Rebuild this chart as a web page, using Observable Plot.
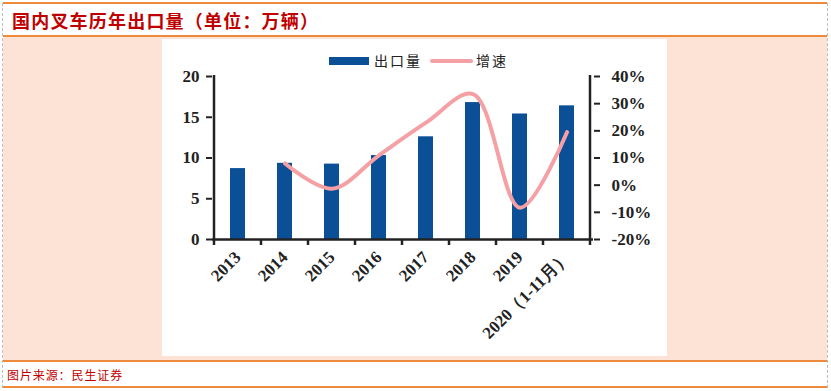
<!DOCTYPE html>
<html>
<head>
<meta charset="utf-8">
<script src="https://cdn.jsdelivr.net/npm/d3@7"></script>
<script src="https://cdn.jsdelivr.net/npm/@observablehq/plot@0.6"></script>
<style>
  html, body { margin: 0; padding: 0; background: #fff; }
  #frame { position: relative; width: 831px; height: 391px; overflow: hidden; background: #fff; }
  .hline { position: absolute; left: 3px; right: 4px; height: 2px; background: #EE8A3C; }
  .vdash { position: absolute; top: 3px; bottom: 3px; width: 0; border-left: 1px dashed #bbb; }
  #peach { position: absolute; left: 3px; right: 4px; top: 37px; height: 323px; background: #FCE3D6; }
  #panel { position: absolute; left: 162px; top: 39px; width: 505px; height: 317px; background: #fff; }
  #title { position: absolute; left: 12px; top: 7px; font: bold 18px "Noto Sans CJK SC", sans-serif; color: #C00000; letter-spacing: 1.2px; }
  #caption { position: absolute; left: 7px; top: 366px; font: 12px "Noto Sans CJK SC", sans-serif; color: #C00000; letter-spacing: 0.9px; }
  #legend { position: absolute; left: 167px; top: 52px; width: 500px; height: 20px; font: 14px "Noto Sans CJK SC", sans-serif; color: #222; }
  .sw { position: absolute; }
</style>
</head>
<body>
<div id="frame">
  <div class="hline" style="top:2px"></div>
  <div class="hline" style="top:35px"></div>
  <div id="peach"></div>
  <div class="hline" style="top:360px"></div>
  <div class="hline" style="top:386px"></div>
  <div class="vdash" style="left:2px"></div>
  <div class="vdash" style="left:827px"></div>
  <div id="title">国内叉车历年出口量（单位：万辆）</div>
  <div id="panel"></div>
  <div id="legend">
    <div class="sw" style="left:162px; top:5px; width:40px; height:8px; background:#0B4F96"></div>
    <div class="sw" style="left:207px; top:-2px; letter-spacing:2px">出口量</div>
    <div class="sw" style="left:263px; top:7px; width:43px; height:4px; border-radius:2px; background:#F4A0A4"></div>
    <div class="sw" style="left:309px; top:-2px; letter-spacing:2px">增速</div>
  </div>
  <div id="caption">图片来源：民生证券</div>
</div>
<script>
const categories = ["2013","2014","2015","2016","2017","2018","2019","2020（1-11月）"];
const exportVolume = [8.7, 9.35, 9.25, 10.3, 12.6, 16.8, 15.4, 16.4];
const growth = [null, 0.08, -0.013, 0.11, 0.23, 0.335, -0.083, 0.195];
const leftTicks = [0, 5, 10, 15, 20];
const rightTicks = [-0.2, -0.1, 0, 0.1, 0.2, 0.3, 0.4];

const gMin = -0.2, gMax = 0.4, yMax = 20;
const toY = g => (g - gMin) / (gMax - gMin) * yMax;
const fromY = y => y / yMax * (gMax - gMin) + gMin;

const bars = categories.map((c, i) => ({cat: c, v: exportVolume[i]}));
const line = categories.map((c, i) => ({cat: c, g: growth[i]})).filter(d => d.g !== null);

const font = '"Liberation Serif", "Times New Roman", serif';

const chart = Plot.plot({
  width: 505,
  height: 317,
  marginLeft: 50,
  marginRight: 74,
  marginTop: 37,
  marginBottom: 117,
  style: {fontFamily: font, fontSize: "15px", fontWeight: "bold", color: "#222", background: "transparent", overflow: "visible"},
  x: {domain: categories, paddingInner: 0.68, paddingOuter: 0.34, align: 0.5},
  y: {domain: [0, yMax]},
  marks: [
    Plot.barY(bars, {x: "cat", y: "v", fill: "#0B4F96"}),
    Plot.line(line, {x: "cat", y: d => toY(d.g), stroke: "#F4A0A4", strokeWidth: 4, curve: "catmull-rom"}),
    Plot.axisY({ticks: leftTicks, tickSize: 6, tickPadding: 7, stroke: "#222", strokeWidth: 2, label: null,
      fontSize: 17, fontWeight: "bold", fontFamily: font}),
    Plot.axisY({anchor: "right", ticks: rightTicks.map(toY), tickFormat: y => `${Math.round(fromY(y) * 100)}%`,
      tickSize: 6, tickPadding: 12, stroke: "#222", strokeWidth: 2, label: null,
      fontSize: 17, fontWeight: "bold", fontFamily: font}),
    Plot.ruleY([0], {stroke: "#222", strokeWidth: 2.5}),
    Plot.axisX({tickSize: 0, tickRotate: -45, tickPadding: 15, label: null, fontSize: 17, fontWeight: "bold", fontFamily: font})
  ]
});

document.getElementById("panel").appendChild(chart);

// axis lines and x-axis tick marks at band boundaries, placed via the chart's own scales
const xs = chart.scale("x");
const ys = chart.scale("y");
const svg = d3.select(chart);
const bw = xs.bandwidth;
const step = xs.step;
const boundaries = categories.map(c => xs.apply(c) - (step - bw) / 2)
  .concat([xs.apply(categories[categories.length - 1]) + bw + (step - bw) / 2]);
const y0 = ys.apply(0), yTop = ys.apply(yMax);
const g = svg.append("g").attr("stroke", "#222").attr("stroke-width", 2.5);
g.selectAll("line.t").data(boundaries).join("line").attr("class", "t")
  .attr("x1", d => d).attr("x2", d => d)
  .attr("y1", y0).attr("y2", y0 + 6);
const xl = boundaries[0], xr = boundaries[boundaries.length - 1];
g.append("line").attr("x1", xl).attr("x2", xl).attr("y1", yTop - 1).attr("y2", y0 + 1);
g.append("line").attr("x1", xr).attr("x2", xr).attr("y1", yTop - 1).attr("y2", y0 + 1);
</script>
</body>
</html>
